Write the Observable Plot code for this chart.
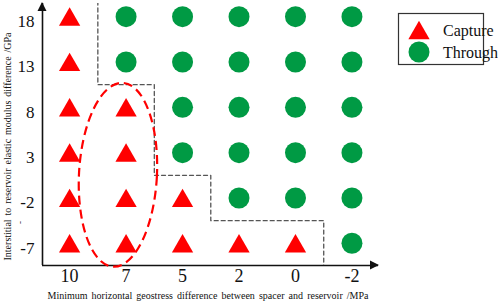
<!DOCTYPE html>
<html><head><meta charset="utf-8">
<script src="https://cdn.jsdelivr.net/npm/d3@7"></script>
<script src="https://cdn.jsdelivr.net/npm/@observablehq/plot@0.6"></script>
<style>
body{margin:0;background:#fff;}
#wrap{position:relative;width:498px;height:305px;}
#legend{position:absolute;left:398px;top:13px;}
</style></head><body><div id="wrap"></div>
<script>
// ---- data ----
const xCategories = ["10", "7", "5", "2", "0", "-2"];
const yCategories = ["-7", "-2", "3", "8", "13", "18"];
// number of rows (counted from the bottom) that are "Capture" in each column
const captureCount = [6, 4, 2, 1, 1, 0];
const outcomes = ["Capture", "Through"];
const highlightColumn = "7";
const highlightRows = ["-7", "8"];
const xTitle = "Minimum horizontal geostress difference between spacer and reservoir /MPa";
const yTitle = "Interstitial to reservoir elastic modulus difference /GPa";

// ---- styling ----
const RED = "#ff0000", GREEN = "#009a44", INK = "#111";
const SERIF = "'Liberation Serif','Times New Roman',serif";
const xDomain = [-0.48, 5.47];
const yDomain = [-0.49, 5.29];

// ---- derived tables ----
const points = [];
xCategories.forEach((xc, i) => yCategories.forEach((yc, j) => {
  points.push({x: i, y: j, outcome: j < captureCount[i] ? outcomes[0] : outcomes[1]});
}));
const capture = points.filter(d => d.outcome === outcomes[0]);
const through = points.filter(d => d.outcome === outcomes[1]);

// boundary between the two outcome regions (step line)
const boundary = [{x: 0.5, y: captureCount[0] - 0.5}];
for (let i = 1; i < captureCount.length; i++) {
  boundary.push({x: i - 0.5, y: captureCount[i] - 0.5});
  if (i < captureCount.length - 1 || captureCount[i] > 0) boundary.push({x: i + 0.5, y: captureCount[i] - 0.5});
}

function decorations(index, scales) {
  const {x, y} = scales;
  const g = d3.create("svg:g");
  const ci = xCategories.indexOf(highlightColumn);
  const j0 = yCategories.indexOf(highlightRows[0]);
  const j1 = yCategories.indexOf(highlightRows[1]);
  const ux = x(1) - x(0), uy = y(0) - y(1);
  const cx = x(ci) - 0.135 * ux, cy = y((j0 + j1) / 2);
  g.append("ellipse")
    .attr("cx", cx).attr("cy", cy)
    .attr("rx", 0.69 * ux).attr("ry", ((j1 - j0) / 2 + 0.53) * uy)
    .attr("transform", `rotate(3 ${cx} ${cy})`)
    .attr("fill", "none").attr("stroke", RED)
    .attr("stroke-width", 2.2).attr("stroke-dasharray", "9 5");
  const x0 = x(xDomain[0]), x1 = x(xDomain[1]);
  const y0 = y(yDomain[0]), y1 = y(yDomain[1]);
  g.append("path").attr("d", `M${x1 + 1},${y0} L${x1 - 8},${y0 - 4.5} L${x1 - 8},${y0 + 4.5} Z`).attr("fill", INK);
  g.append("path").attr("d", `M${x0},${y1 - 1} L${x0 - 4.5},${y1 + 8} L${x0 + 4.5},${y1 + 8} Z`).attr("fill", INK);
  return g.node();
}

const chart = Plot.plot({
  width: 498, height: 305,
  marginLeft: 42, marginRight: 120, marginTop: 3, marginBottom: 40,
  style: {background: "#fff", fontFamily: SERIF, color: INK},
  x: {type: "linear", domain: xDomain, axis: null},
  y: {type: "linear", domain: yDomain, axis: null},
  marks: [
    Plot.line(boundary, {x: "x", y: "y", stroke: "#555", strokeWidth: 1.3, strokeDasharray: "4 3", clip: true}),
    Plot.ruleY([yDomain[0]], {stroke: INK, strokeWidth: 1.6}),
    Plot.ruleX([xDomain[0]], {stroke: INK, strokeWidth: 1.6}),
    Plot.dot(through, {x: "x", y: "y", r: 10.5, fill: GREEN, stroke: null}),
    Plot.dot(capture, {x: "x", y: "y", symbol: "triangle", r: 7.9, dy: 3, fill: RED, stroke: null}),
    decorations,
    Plot.text(xCategories, {x: (d, i) => i, frameAnchor: "bottom", dy: 16, text: d => d, fontSize: 18, fontFamily: SERIF, fill: INK}),
    Plot.text(yCategories, {y: (d, i) => i, frameAnchor: "left", dx: -8, dy: 5, textAnchor: "end", text: d => d, fontSize: 17, fontFamily: SERIF, fill: INK}),
    Plot.text([xTitle], {frameAnchor: "bottom", textAnchor: "middle", dx: -2.5, dy: 33, text: d => d, fontSize: 10, fontFamily: SERIF, fill: INK}),
    Plot.text([yTitle], {frameAnchor: "left", textAnchor: "middle", dx: -35, dy: 12, rotate: -90, text: d => d, fontSize: 10, fontFamily: SERIF, fill: INK}),
    Plot.text(["-"], {frameAnchor: "left", textAnchor: "middle", dx: -22, dy: 88, rotate: -90, text: d => d, fontSize: 9, fontFamily: SERIF, fill: INK})
  ]
});
const wrap = document.getElementById("wrap");
wrap.appendChild(chart);

// fit the axis titles to the widths they occupy in the reference (measured after insertion)
function fitTitle(node, target) {
  const sel = d3.select(node);
  const len = node.getComputedTextLength();
  const spaces = (node.textContent.match(/ /g) || []).length;
  if (len > target) {
    sel.attr("font-size", 10 * target / len);
  } else if (spaces) {
    sel.style("word-spacing", ((target - len) / spaces) + "px");
  }
}
d3.select(chart).selectAll("text").each(function() {
  const t = this.textContent;
  if (t === xTitle) fitTitle(this, 321);
  if (t === yTitle) fitTitle(this, 228);
});

// legend box
const lg = d3.create("svg").attr("id", "legend").attr("width", 100).attr("height", 54)
  .style("overflow", "visible");
lg.append("rect").attr("x", 0.5).attr("y", 0.5).attr("width", 85).attr("height", 51)
  .attr("fill", "none").attr("stroke", "#333").attr("stroke-width", 1.2);
const legendSymbols = [d3.symbolTriangle, d3.symbolCircle];
const legendColors = [RED, GREEN];
const legendSizes = [7.9, 10.5];
outcomes.forEach((o, k) => {
  const cy = k === 0 ? 17 : 39;
  lg.append("path")
    .attr("d", d3.symbol(legendSymbols[k], legendSizes[k] * legendSizes[k] * Math.PI)())
    .attr("transform", `translate(21,${cy + (k === 0 ? 3 : 0)})`)
    .attr("fill", legendColors[k]);
  lg.append("text").attr("x", 45).attr("y", cy).attr("dy", "0.35em")
    .attr("font-family", SERIF).attr("font-size", 16).attr("fill", INK).text(o);
});
wrap.appendChild(lg.node());
</script>
</body></html>
